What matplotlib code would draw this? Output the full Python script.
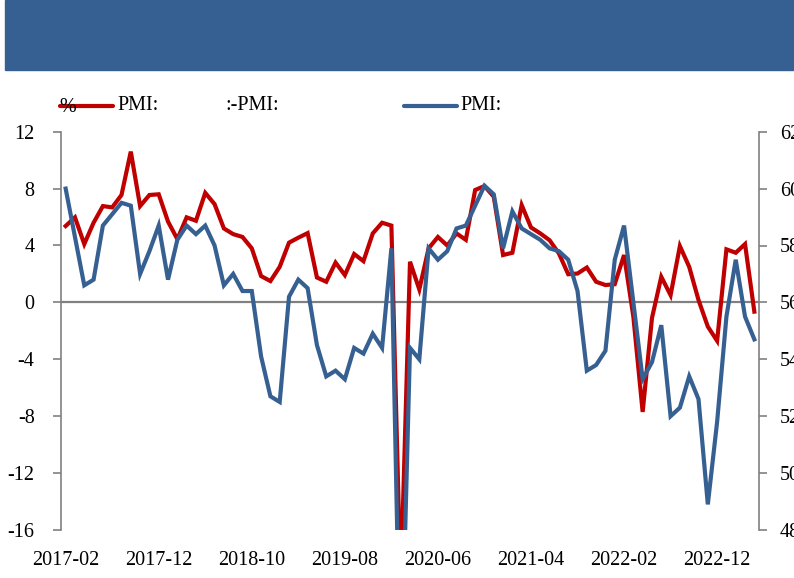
import matplotlib
matplotlib.use("Agg")
import matplotlib.pyplot as plt
import numpy as np
import pandas as pd
from matplotlib.lines import Line2D
from matplotlib.patches import Rectangle

# ---- data ----
months = pd.period_range("2017-02", periods=75, freq="M").strftime("%Y-%m").tolist()

red_left = [5.37, 5.98, 4.1, 5.6, 6.77, 6.68, 7.55, 10.6, 6.77, 7.55,
            7.6, 5.68, 4.45, 5.98, 5.74, 7.7, 6.91, 5.2, 4.8, 4.6,
            3.8, 1.85, 1.5, 2.5, 4.2, 4.55, 4.87, 1.75, 1.45, 2.8,
            1.92, 3.4, 2.9, 4.85, 5.6, 5.4, -20.0, 2.86, 0.91, 3.8,
            4.6, 4.0, 4.85, 4.4, 7.9, 8.18, 7.43, 3.33, 3.49, 6.84,
            5.27, 4.85, 4.37, 3.44, 1.98, 2.03, 2.45, 1.45, 1.22, 1.28,
            3.33, -1.0, -7.7, -1.1, 1.8, 0.51, 3.96, 2.5, 0.17, -1.7,
            -2.7, 3.73, 3.49, 4.1, -0.65]

blue_right = [60.0, 58.3, 56.6, 56.8, 58.7, 59.1, 59.5, 59.4, 57.0, 57.8,
              58.7, 56.8, 58.2, 58.7, 58.4, 58.7, 58.0, 56.6, 57.0, 56.4,
              56.4, 54.1, 52.7, 52.5, 56.2, 56.8, 56.5, 54.5, 53.4, 53.6,
              53.3, 54.4, 54.2, 54.9, 54.4, 57.9, 42.0, 54.4, 54.0, 57.9,
              57.5, 57.8, 58.6, 58.7, 59.4, 60.1, 59.8, 57.9, 59.2, 58.6,
              58.4, 58.2, 57.9, 57.8, 57.5, 56.4, 53.6, 53.8, 54.3, 57.5,
              58.7, 56.0, 53.3, 53.9, 55.2, 52.0, 52.3, 53.4, 52.6, 48.9,
              51.8, 55.5, 57.5, 55.5, 54.7]

left_ticks = [-16, -12, -8, -4, 0, 4, 8, 12]
right_ticks = [48, 50, 52, 54, 56, 58, 60, 62]
label_step = 10

legend_red = "PMI:"
legend_mid = ":-PMI:"
legend_blue = "PMI:"
unit_label = "%"

RED = "#C00000"
BLUE = "#376092"
GRAY = "#808080"
FONT = "Liberation Serif"
FS = 14.5

plt.rcParams["font.family"] = [FONT, "DejaVu Sans"]

W, H = 794, 578
fig = plt.figure(figsize=(W / 100, H / 100), dpi=100)

# banner
fig.patches.append(Rectangle((5 / W, 1 - 70 / H), 1 - 5 / W, 70 / H,
                             transform=fig.transFigure, color=BLUE, zorder=0))

x0, x1, ytop, ybot = 61, 759, 131.7, 530.0
ax = fig.add_axes([x0 / W, 1 - ybot / H, (x1 - x0) / W, (ybot - ytop) / H])
ax2 = ax.twinx()

x = np.arange(len(months))
ax.axhline(0, color=GRAY, lw=1.6, zorder=1)
ax.plot(x, red_left, color=RED, lw=3.0, zorder=3, solid_joinstyle="miter")
ax2.plot(x, blue_right, color=BLUE, lw=3.0, zorder=3, solid_joinstyle="miter")

ax.set_xlim(-0.5, len(months) - 0.5)
ax.set_ylim(-16, 12)
ax2.set_ylim(48, 62)
ax.set_yticks(left_ticks)
ax.set_yticklabels([str(t) for t in left_ticks])
ax2.set_yticks(right_ticks)
ax2.set_yticklabels([str(t) for t in right_ticks])

xt = x[::label_step]
ax.set_xticks(xt)
ax.set_xticklabels([months[i] for i in xt])

for a in (ax, ax2):
    for s in a.spines.values():
        s.set_visible(False)
ax.spines["left"].set_visible(True)
ax.spines["left"].set_color(GRAY)
ax.spines["left"].set_linewidth(1.2)
ax2.spines["right"].set_visible(True)
ax2.spines["right"].set_color(GRAY)
ax2.spines["right"].set_linewidth(1.2)

ax.tick_params(axis="y", direction="out", length=6, width=1.2, color=GRAY,
               labelsize=FS, pad=13)
ax2.tick_params(axis="y", direction="out", length=6, width=1.2, color=GRAY,
                labelsize=FS, pad=9)
ax.tick_params(axis="x", length=0, labelsize=FS, pad=15)
for lab in ax.get_xticklabels() + ax.get_yticklabels() + ax2.get_yticklabels():
    lab.set_fontfamily(FONT)

# legend (manual, in pixel positions)
def fx(px):
    return px / W

def fy(py):
    return 1 - py / H

fig.lines.append(Line2D([fx(60), fx(113)], [fy(106), fy(106)], color=RED, lw=3.0,
                        transform=fig.transFigure, solid_capstyle="round"))
fig.lines.append(Line2D([fx(404), fx(457)], [fy(106), fy(106)], color=BLUE, lw=3.0,
                        transform=fig.transFigure, solid_capstyle="round"))
fig.text(fx(59), fy(108), unit_label, fontsize=FS, va="center", ha="left", family=FONT)
fig.text(fx(117), fy(106), legend_red, fontsize=FS, va="center", ha="left", family=FONT)
fig.text(fx(225), fy(106), legend_mid, fontsize=FS, va="center", ha="left", family=FONT)
fig.text(fx(460), fy(106), legend_blue, fontsize=FS, va="center", ha="left", family=FONT)

fig.savefig("out.png", dpi=100)
